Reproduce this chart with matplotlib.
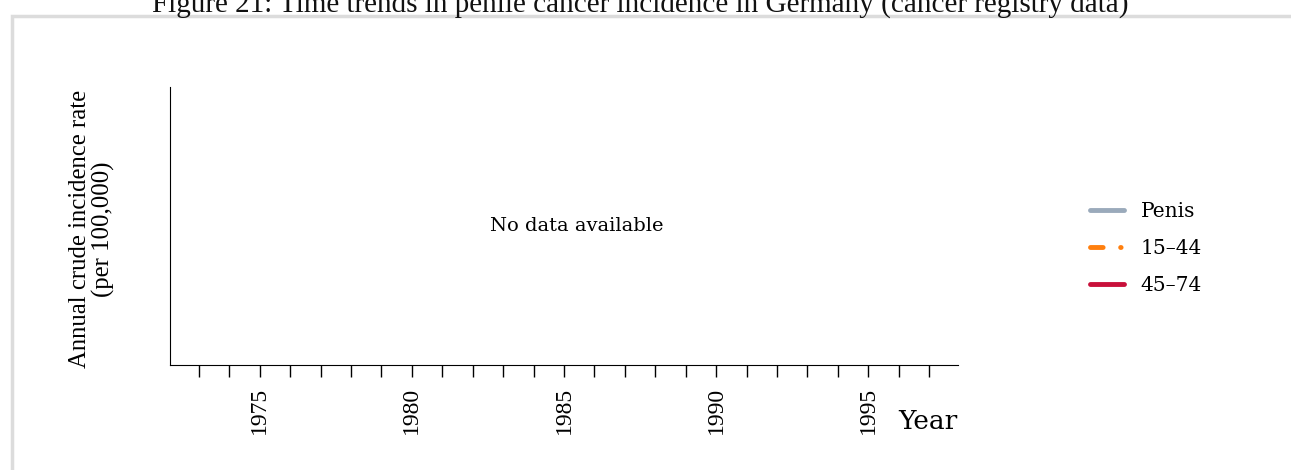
import matplotlib
matplotlib.use("Agg")
from matplotlib import pyplot as plt
from matplotlib.patches import Rectangle

title = "Figure 21: Time trends in penile cancer incidence in Germany (cancer registry data)"
years = list(range(1973, 1998))
label_years = [1975, 1980, 1985, 1990, 1995]
series_names = ["Penis", "15\u201344", "45\u201374"]
series_colors = ["#9aaabb", "#ff7f0e", "#c8103a"]
series_styles = ["-", (0, (2.6, 3.6, 0.1, 10)), "-"]
# no data in the reference: every series is empty
series_values = [[], [], []]

fig = plt.figure(figsize=(12.91, 4.70), dpi=100)

# page frame and clipped title
fig.patches.append(Rectangle((12 / 1291, -0.1), 1.2, (1 - 16 / 470) + 0.1,
                             transform=fig.transFigure, fill=False,
                             edgecolor="#dcdcdc", linewidth=2.5))
fig.text(0.496, 1 - 12 / 470, title, ha="center", va="baseline",
         fontsize=21, family="Liberation Serif", color="#111111")

ax = fig.add_axes([170 / 1291, 1 - 365 / 470, (958 - 170) / 1291, (365 - 87) / 470])
ax.set_xlim(1972.05, 1997.95)
ax.set_ylim(0, 1)

for name, color, style, vals in zip(series_names, series_colors, series_styles, series_values):
    ax.plot(vals, vals, color=color, linestyle=style, linewidth=3.5,
            solid_capstyle="round", dash_capstyle="round", label=name)

ax.spines["top"].set_visible(False)
ax.spines["right"].set_visible(False)
ax.set_yticks([])
ax.set_xticks(years)
ax.set_xticklabels([str(y) if y in label_years else "" for y in years],
                   rotation=90, family="Liberation Serif", fontsize=17)
ax.tick_params(axis="x", length=8.5, width=1, pad=7)

ax.text(0.5165, 0.5, "No data available", transform=ax.transAxes,
        ha="center", va="center", fontsize=14, family="DejaVu Serif")
ax.text(1.0, -0.205, "Year", transform=ax.transAxes, ha="right", va="center",
        fontsize=19, family="DejaVu Serif")

fig.text(92 / 1291, 0.512, "Annual crude incidence rate\n(per 100,000)", rotation=90,
         ha="center", va="center", fontsize=17.8, family="Liberation Serif",
         linespacing=1.1)

ax.legend(loc="center left", bbox_to_anchor=(1.145, 0.42), frameon=False,
          prop={"family": "DejaVu Serif", "size": 14.5}, handlelength=1.65,
          labelspacing=0.9, handletextpad=0.85)

fig.savefig("out.png", dpi=100)
